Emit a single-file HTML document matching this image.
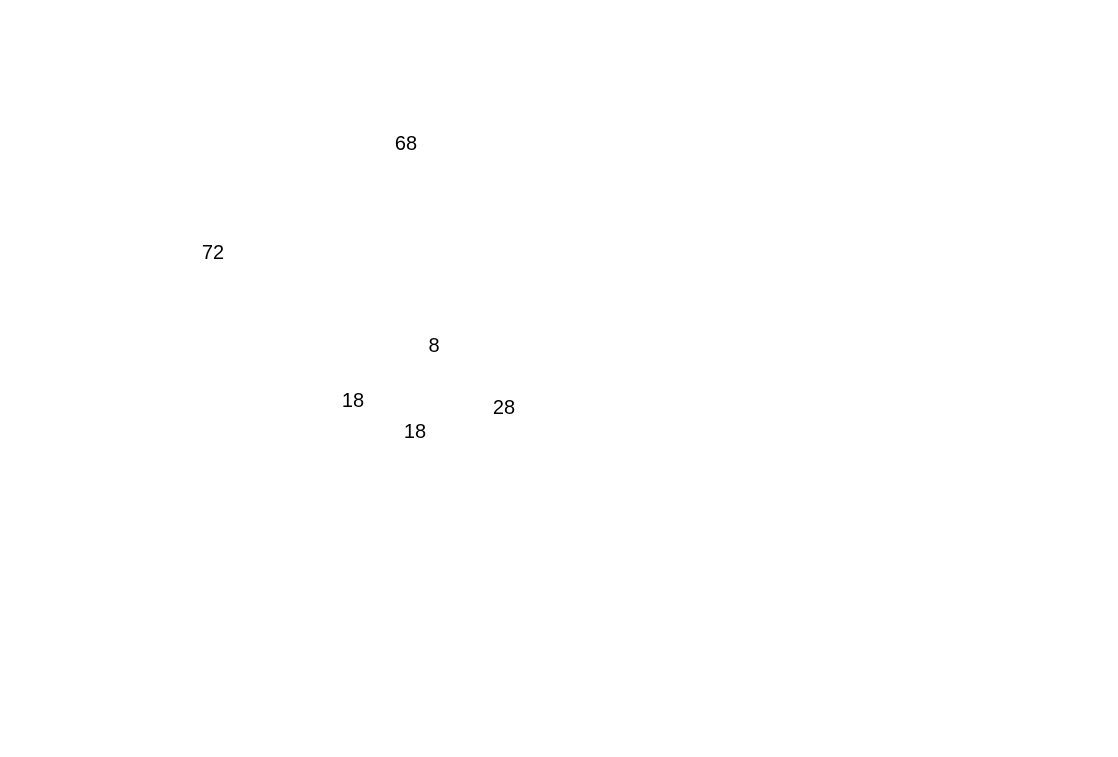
<!DOCTYPE html>
<html>
<head>
<meta charset="utf-8">
<style>
  html, body { margin: 0; padding: 0; background: #ffffff; }
  svg { display: block; }
  text { font-family: "Liberation Sans", "DejaVu Sans", sans-serif; font-size: 20px; fill: #000000; }
</style>
</head>
<body>
<svg id="chart" width="1118" height="757" viewBox="0 0 1118 757" xmlns="http://www.w3.org/2000/svg">
  <rect x="0" y="0" width="1118" height="757" fill="#ffffff"/>
  <g id="labels"></g>
</svg>
<script>
const labelValues = [68, 72, 8, 18, 28, 18];
const labelX = [406, 213, 434, 353, 504, 415];
const labelY = [143, 252, 345, 400, 407, 431];

const g = document.getElementById('labels');
labelValues.forEach(function (v, i) {
  const t = document.createElementNS('http://www.w3.org/2000/svg', 'text');
  t.setAttribute('x', labelX[i]);
  t.setAttribute('y', labelY[i] + 7);
  t.setAttribute('text-anchor', 'middle');
  
  
  t.textContent = String(v);
  g.appendChild(t);
});
</script>
</body>
</html>
